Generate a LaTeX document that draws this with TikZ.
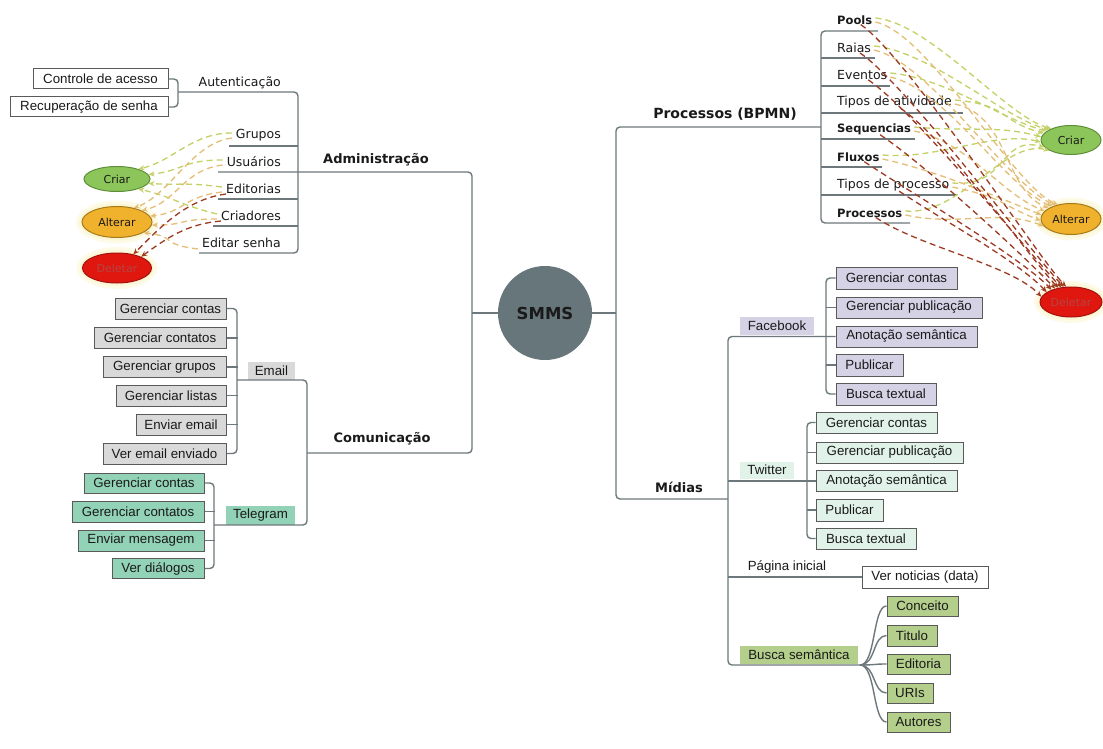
\documentclass[tikz,border=0pt]{standalone}
\usepackage{fontspec}
\setmainfont{DejaVu Sans}
\newfontfamily\lib{Liberation Sans}
\usetikzlibrary{shapes.geometric,arrows.meta}
\definecolor{linec}{HTML}{6D787C}
\definecolor{bord}{HTML}{5A5A5A}
\definecolor{grayfill}{HTML}{D9D9D9}
\definecolor{tealfill}{HTML}{92D2B6}
\definecolor{lavfill}{HTML}{D5D2E6}
\definecolor{mintfill}{HTML}{E1F3E8}
\definecolor{greenfill}{HTML}{B4CE8B}
\definecolor{hubfill}{HTML}{67767B}
\definecolor{criarfill}{HTML}{8CC65A}
\definecolor{criarline}{HTML}{5E8E3A}
\definecolor{altfill}{HTML}{F0B12C}
\definecolor{altline}{HTML}{A67A1A}
\definecolor{delfill}{HTML}{E0170F}
\definecolor{delline}{HTML}{A31010}
\definecolor{deltext}{HTML}{B54444}
\definecolor{ygc}{HTML}{C3D166}
\definecolor{tanc}{HTML}{E3BE76}
\definecolor{redc}{HTML}{9C3A22}
\definecolor{txt}{HTML}{1A1A1A}
\definecolor{glowc}{HTML}{F6EC9A}
\begin{document}
\begin{tikzpicture}[x=1pt,y=-1pt,
  trunk/.style={draw=linec,line width=1.4pt,rounded corners=4pt},
  lab/.style={inner sep=0pt,text=txt,font=\fontsize{12.5}{14}\selectfont},
  labb/.style={inner sep=0pt,text=txt,font=\bfseries\fontsize{11.5}{13}\selectfont},
  hdlab/.style={inner sep=0pt,text=txt,font=\bfseries\fontsize{13}{15}\selectfont},
  bx/.style={draw=bord,line width=1pt,inner sep=0pt,text=txt,font=\lib\fontsize{13.3}{15}\selectfont},
  tagbox/.style={inner sep=0pt,text=txt,font=\lib\fontsize{13.3}{15}\selectfont},
  ovl/.style={ellipse,inner sep=0pt,line width=1pt,font=\fontsize{11}{13}\selectfont},
  dsh/.style={line width=1.3pt,dash pattern=on 6pt off 4pt,-{Stealth[length=6pt,width=5pt]}},
  yg/.style={dsh,draw=ygc}, tn/.style={dsh,draw=tanc}, rd/.style={dsh,draw=redc},
  glowfill/.style={fill=glowc,opacity=.22}]
\useasboundingbox (0,0) rectangle (1103,749);
\fill[white] (0,0) rectangle (1103,749);

% ---------- hub ----------
\node[circle,fill=hubfill,minimum size=94pt,inner sep=0pt,text=txt,font=\bfseries\fontsize{16.5}{18}\selectfont] (hub) at (545,313) {SMMS};

% ---------- Administracao ----------
\node[bx,fill=white,minimum width=135pt,minimum height=20pt] (ca) at (100.5,79) {Controle de acesso};
\node[bx,fill=white,minimum width=158pt,minimum height=20pt] (rs) at (89,107) {Recuperação de senha};
\node[lab,anchor=east] (aut) at (281,83) {Autenticação};
\node[lab,anchor=east] (grp) at (281,135) {Grupos};
\node[lab,anchor=east] (usr) at (281,162) {Usuários};
\node[lab,anchor=east] (edt) at (281,189) {Editorias};
\node[lab,anchor=east] (cri) at (281,216) {Criadores};
\node[lab,anchor=east] (eds) at (281,243) {Editar senha};
\node[hdlab] (adm) at (376,160) {Administração};

\draw[trunk] (ca.east) -- (178,79) -- (178,107) -- (rs.east);
\draw[trunk] (178,92) -- (298,92) -- (298,253) -- (199,253);
\draw[trunk] (229,146) -- (298,146);
\draw[trunk] (218,199) -- (298,199);
\draw[trunk] (213,226) -- (298,226);
\draw[trunk] (218,172) -- (472,172) -- (472,453) -- (307,453);
\draw[trunk] (472,313) -- (hub.west);

% left ellipses
\foreach \r in {0,3,6} {
  \fill[glowfill] (117,222) ellipse [x radius=35pt+\r pt, y radius=15.5pt+\r pt];
  \fill[glowfill] (117,268) ellipse [x radius=34.5pt+\r pt, y radius=15pt+\r pt];
}
\node[ovl,fill=criarfill,draw=criarline,minimum width=66pt,minimum height=25pt,text=txt] (cL) at (117,179) {Criar};
\node[ovl,fill=altfill,draw=altline,minimum width=70pt,minimum height=31pt,text=txt] (aL) at (117,222) {Alterar};
\node[ovl,fill=delfill,draw=delline,minimum width=69pt,minimum height=30pt,text=deltext] (dL) at (117,268) {Deletar};

\draw[yg] ([xshift=-4pt,yshift=2pt]grp.west) .. controls +(-40,0) and +(35,-8) .. (cL.25);
\draw[yg] ([xshift=-4pt,yshift=2pt]usr.west) .. controls +(-40,0) and +(35,-4) .. (cL.8);
\draw[yg] ([xshift=-4pt,yshift=2pt]edt.west) .. controls +(-40,-5) and +(35,2) .. (cL.-8);
\draw[yg] ([xshift=-4pt,yshift=2pt]cri.west) .. controls +(-40,-10) and +(35,8) .. (cL.-25);
\draw[tn] ([xshift=-4pt,yshift=-3pt]grp.west) .. controls +(-40,5) and +(35,-12) .. (aL.40);
\draw[tn] ([xshift=-4pt,yshift=-3pt]usr.west) .. controls +(-40,5) and +(35,-8) .. (aL.25);
\draw[tn] ([xshift=-4pt,yshift=-3pt]edt.west) .. controls +(-40,5) and +(35,-4) .. (aL.10);
\draw[tn] ([xshift=-4pt,yshift=-3pt]cri.west) .. controls +(-40,0) and +(35,0) .. (aL.-5);
\draw[tn] ([xshift=-4pt,yshift=-6pt]eds.west) .. controls +(-40,-5) and +(35,4) .. (aL.-22);
\draw[rd] (edt.south west) .. controls +(-40,5) and +(25,-25) .. (dL.40);
\draw[rd] (cri.south west) .. controls +(-35,3) and +(25,-18) .. (dL.25);

% ---------- Comunicacao ----------
\node[hdlab] (com) at (382,439) {Comunicação};
\node[tagbox,fill=grayfill,minimum width=47pt,minimum height=18pt] (eml) at (271.5,371) {Email};
\node[tagbox,fill=tealfill,minimum width=69pt,minimum height=19pt] (tlg) at (260.5,515.5) {Telegram};

\node[bx,fill=grayfill,minimum width=111pt,minimum height=21pt] (e1) at (170.5,308.5) {Gerenciar contas};
\node[bx,fill=grayfill,minimum width=132pt,minimum height=21pt] (e2) at (160,338) {Gerenciar contatos};
\node[bx,fill=grayfill,minimum width=123pt,minimum height=21pt] (e3) at (164.5,367) {Gerenciar grupos};
\node[bx,fill=grayfill,minimum width=110pt,minimum height=21pt] (e4) at (171,395.5) {Gerenciar listas};
\node[bx,fill=grayfill,minimum width=90pt,minimum height=21pt] (e5) at (181,424.5) {Enviar email};
\node[bx,fill=grayfill,minimum width=123pt,minimum height=21pt] (e6) at (164.5,453.5) {Ver email enviado};

\node[bx,fill=tealfill,minimum width=120pt,minimum height=20pt] (t1) at (144,483) {Gerenciar contas};
\node[bx,fill=tealfill,minimum width=132pt,minimum height=21pt] (t2) at (138,511.5) {Gerenciar contatos};
\node[bx,fill=tealfill,minimum width=126pt,minimum height=21pt] (t3) at (141,540.5) {Enviar mensagem};
\node[bx,fill=tealfill,minimum width=92pt,minimum height=20pt] (t4) at (158,568.5) {Ver diálogos};

\draw[trunk] (e1.east) -- (237,308.5) -- (237,453.5) -- (e6.east);
\foreach \b in {e2,e3,e4,e5} \draw[trunk] (\b.east) -- ++(11,0);
\draw[trunk] (237,380) -- (307,380) -- (307,525) -- (214,525);
\draw[trunk] (t1.east) -- (214,483) -- (214,568.5) -- (t4.east);
\foreach \b in {t2,t3} \draw[trunk] (\b.east) -- ++(10,0);

% ---------- Processos (BPMN) ----------
\node[hdlab,font=\bfseries\fontsize{14}{16}\selectfont] (bpmn) at (725,114) {Processos (BPMN)};
\node[labb,anchor=west] (pl) at (837,20) {Pools};
\node[lab,anchor=west] (ra) at (837,48) {Raias};
\node[lab,anchor=west] (ev) at (837,75) {Eventos};
\node[lab,anchor=west] (ta) at (837,102) {Tipos de atividade};
\node[labb,anchor=west] (sq) at (837,129) {Sequencias};
\node[labb,anchor=west] (fl) at (837,157) {Fluxos};
\node[lab,anchor=west] (tp) at (837,185) {Tipos de processo};
\node[labb,anchor=west] (pr) at (837,213) {Processos};

\draw[trunk] (hub.east) -- (616,313);
\draw[trunk] (821,127) -- (616,127) -- (616,499) -- (728,499);
\draw[trunk] (878,31) -- (821,31) -- (821,223) -- (910,223);
\draw[trunk] (821,58) -- (875,58);
\draw[trunk] (821,86) -- (890,86);
\draw[trunk] (821,113) -- (963,113);
\draw[trunk] (821,139) -- (915,139);
\draw[trunk] (821,167) -- (882,167);
\draw[trunk] (821,195) -- (957,195);

% right ellipses
\foreach \r in {0,3,6} {
  \fill[glowfill] (1071,219) ellipse [x radius=30pt+\r pt, y radius=15.5pt+\r pt];
  \fill[glowfill] (1071,302) ellipse [x radius=31pt+\r pt, y radius=15pt+\r pt];
}
\node[ovl,fill=criarfill,draw=criarline,minimum width=60pt,minimum height=29pt,text=txt] (cR) at (1071,140) {Criar};
\node[ovl,fill=altfill,draw=altline,minimum width=60pt,minimum height=31pt,text=txt] (aR) at (1071,219) {Alterar};
\node[ovl,fill=delfill,draw=delline,minimum width=62pt,minimum height=30pt,text=deltext] (dR) at (1071,302) {Deletar};

\foreach \n/\a in {pl/150,ra/155,ev/160,ta/166,sq/174,fl/184,tp/195,pr/206}
  \draw[yg] ([xshift=3pt,yshift=2pt]\n.east) .. controls +(55,5) and +(-45,-12) .. (cR.\a);
\foreach \n/\a in {pl/132,ra/138,ev/146,ta/154,sq/163,fl/172,tp/183,pr/195}
  \draw[tn] ([xshift=3pt,yshift=-2pt]\n.east) .. controls +(55,12) and +(-45,-18) .. (aR.\a);
\foreach \n/\a in {pl/108,ra/116,ev/124,ta/132,sq/140,fl/148,tp/158,pr/170}
  \draw[rd] ([xshift=6pt]\n.south) .. controls +(45,30) and +(-30,-32) .. (dR.\a);

% ---------- Midias ----------
\node[hdlab] (mid) at (679,487) {Mídias};
\node[tagbox,fill=lavfill,minimum width=74pt,minimum height=18pt] (fb) at (777,326) {Facebook};
\node[tagbox,fill=mintfill,minimum width=54pt,minimum height=17pt] (tw) at (767,470) {Twitter};
\node[tagbox,text=txt] (pi) at (787,567) {Página inicial};
\node[tagbox,fill=greenfill,minimum width=118pt,minimum height=18pt] (bs) at (799,655) {Busca semântica};

\node[bx,fill=lavfill,minimum width=121pt,minimum height=22pt] (f1) at (896.5,278) {Gerenciar contas};
\node[bx,fill=lavfill,minimum width=146pt,minimum height=21pt] (f2) at (909,307.5) {Gerenciar publicação};
\node[bx,fill=lavfill,minimum width=141pt,minimum height=21pt] (f3) at (906.5,336.5) {Anotação semântica};
\node[bx,fill=lavfill,minimum width=67pt,minimum height=22pt] (f4) at (869.5,365) {Publicar};
\node[bx,fill=lavfill,minimum width=100pt,minimum height=22pt] (f5) at (886,394) {Busca textual};

\node[bx,fill=mintfill,minimum width=121pt,minimum height=21pt] (w1) at (876.5,422.5) {Gerenciar contas};
\node[bx,fill=mintfill,minimum width=147pt,minimum height=21pt] (w2) at (889.5,452.5) {Gerenciar publicação};
\node[bx,fill=mintfill,minimum width=141pt,minimum height=21pt] (w3) at (886.5,481) {Anotação semântica};
\node[bx,fill=mintfill,minimum width=67pt,minimum height=22pt] (w4) at (849.5,510) {Publicar};
\node[bx,fill=mintfill,minimum width=100pt,minimum height=21pt] (w5) at (866,538.5) {Busca textual};

\node[bx,fill=white,minimum width=126pt,minimum height=22pt] (vn) at (925,577) {Ver noticias (data)};

\node[bx,fill=greenfill,minimum width=71pt,minimum height=20pt] (b1) at (922.5,606) {Conceito};
\node[bx,fill=greenfill,minimum width=50pt,minimum height=21pt] (b2) at (912,635.5) {Titulo};
\node[bx,fill=greenfill,minimum width=63pt,minimum height=20pt] (b3) at (918.5,664) {Editoria};
\node[bx,fill=greenfill,minimum width=46pt,minimum height=20pt] (b4) at (910,693) {URIs};
\node[bx,fill=greenfill,minimum width=63pt,minimum height=20pt] (b5) at (918.5,722) {Autores};

\draw[trunk] (f3.west) -- (728,336.5) -- (728,665) -- (860,665);
\draw[trunk] (728,481) -- (w3.west);
\draw[trunk] (728,577) -- (vn.west);
\draw[trunk] (f1.west) -- (826,278) -- (826,394) -- (f5.west);
\foreach \b in {f2,f4} \draw[trunk] (\b.west) -- ++(-10,0);
\draw[trunk] (w1.west) -- (807,422.5) -- (807,538.5) -- (w5.west);
\foreach \b in {w2,w4} \draw[trunk] (\b.west) -- ++(-9,0);
\foreach \b in {b1,b2,b3,b4,b5}
  \draw[draw=linec,line width=1.4pt] (860,665) .. controls +(16,0) and +(-14,0) .. (\b.west);
\end{tikzpicture}
\end{document}
